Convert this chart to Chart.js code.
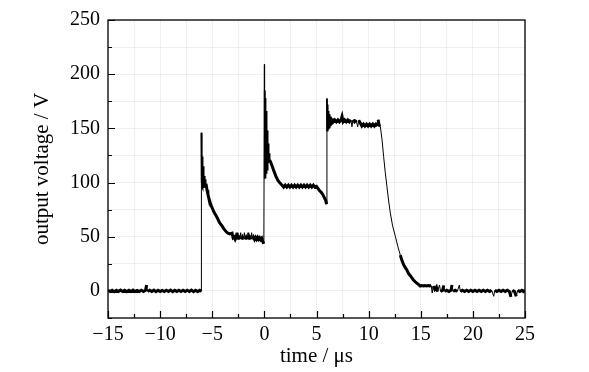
<!DOCTYPE html>
<html>
<head>
<meta charset="utf-8">
<script src="https://cdn.jsdelivr.net/npm/chart.js@4/dist/chart.umd.min.js"></script>
<style>
  html, body { margin: 0; padding: 0; background: #fff; }
  #wrap { width: 589px; height: 372px; }
</style>
</head>
<body>
<div id="wrap"><canvas id="chart-voltage"></canvas></div>
<script>
// Oscilloscope trace: [time us, voltage V]
var baselineBefore = [
  [-15, 0.6], [-14.8, -0.6], [-14.6, 0.5], [-14.4, -0.7], [-14.2, 0.6], [-14, -0.6],
  [-13.8, 0.7], [-13.6, -0.5], [-13.4, 0.6], [-13.2, -0.7], [-13, 0.6], [-12.8, -0.6],
  [-12.6, 0.7], [-12.4, -0.6], [-12.2, 0.5], [-12, -0.6], [-11.8, 0.6], [-11.6, -0.5],
  [-11.4, 0.6], [-11.3, 5.4], [-11.2, -0.6], [-11, 0.6], [-10.8, -0.5], [-10.6, 0.7],
  [-10.4, -0.7], [-10.2, 0.6], [-10, -0.6], [-9.8, 0.5], [-9.6, -0.6], [-9.4, 0.6],
  [-9.2, -0.5], [-9, 0.7], [-8.8, -0.7], [-8.6, 0.6], [-8.4, -0.6], [-8.2, 0.6],
  [-8, -0.5], [-7.8, 0.6], [-7.6, -0.6], [-7.4, 0.6], [-7.2, -0.5], [-7, 0.7],
  [-6.8, -0.7], [-6.6, 0.6], [-6.4, -0.6], [-6.2, 0.5], [-6.06, -0.5]
];

var pulseOne = [
  [-6.04, 146], [-6.02, 100], [-6, 130], [-5.98, 96], [-5.96, 124], [-5.94, 95],
  [-5.92, 119], [-5.9, 95], [-5.88, 115], [-5.86, 95], [-5.84, 112], [-5.82, 95],
  [-5.8, 109], [-5.77, 96], [-5.74, 106], [-5.71, 96], [-5.68, 103], [-5.64, 97],
  [-5.6, 99], [-5.55, 96], [-5.5, 93], [-5.42, 89.5], [-5.34, 86], [-5.26, 83.5],
  [-5.18, 81], [-5.09, 78.5], [-5, 76.5], [-4.85, 73], [-4.7, 70.5], [-4.5, 67],
  [-4.3, 63], [-4.06, 60], [-3.9, 57.5], [-3.7, 55], [-3.5, 53.2], [-3.3, 52.5],
  [-3.1, 53.2], [-3, 49], [-2.9, 49.8], [-2.8, 47.6], [-2.7, 49.6], [-2.62, 53.7],
  [-2.55, 47.6], [-2.45, 49.6], [-2.35, 47.6], [-2.27, 53.7], [-2.2, 47.6], [-2.1, 49.6],
  [-2, 47.6], [-1.92, 53.7], [-1.85, 47.6], [-1.75, 49.6], [-1.65, 47.6], [-1.57, 53.7],
  [-1.5, 47.6], [-1.4, 49.6], [-1.3, 47.6], [-1.22, 53.7], [-1.15, 47.6], [-1.05, 49.6],
  [-0.95, 47.6], [-0.85, 49.4], [-0.75, 47.6], [-0.65, 49.4], [-0.55, 47.6], [-0.45, 49],
  [-0.35, 47.2], [-0.25, 48.5], [-0.15, 45.5], [-0.05, 43.5]
];

var pulseTwo = [
  [0, 209], [0.02, 104], [0.04, 185], [0.06, 105], [0.08, 178], [0.1, 106],
  [0.12, 172], [0.14, 107], [0.16, 166], [0.18, 108], [0.2, 160], [0.22, 110],
  [0.24, 154], [0.26, 112], [0.28, 148], [0.3, 114], [0.32, 142], [0.34, 116],
  [0.36, 136], [0.38, 118], [0.4, 131], [0.43, 120], [0.46, 127], [0.5, 121],
  [0.6, 119], [0.75, 115], [0.9, 111], [1.1, 106], [1.3, 102], [1.5, 99.5],
  [1.7, 97.5], [1.85, 95.8], [2, 97.6], [2.15, 95.8], [2.3, 97.6], [2.45, 95.8],
  [2.6, 97.6], [2.75, 95.8], [2.9, 97.6], [3.05, 95.8], [3.2, 97.6], [3.35, 95.8],
  [3.5, 97.6], [3.65, 95.8], [3.8, 97.6], [3.95, 95.8], [4.1, 97.6], [4.25, 95.8],
  [4.4, 97.6], [4.55, 95.8], [4.7, 97.6], [4.85, 95.8], [5, 96.5], [5.15, 94.5],
  [5.3, 92.5], [5.45, 91], [5.6, 89], [5.75, 86], [5.88, 83.5], [5.97, 80]
];

var pulseThree = [
  [6, 177.5], [6.02, 148], [6.04, 172], [6.06, 148], [6.08, 168], [6.1, 148],
  [6.12, 166], [6.14, 149], [6.16, 164], [6.18, 149], [6.2, 163], [6.23, 150],
  [6.26, 162], [6.29, 151], [6.32, 161], [6.36, 152], [6.4, 160], [6.45, 153],
  [6.5, 159], [6.6, 156], [6.75, 157.8], [6.9, 156], [7.05, 157.8], [7.2, 156],
  [7.35, 157.8], [7.45, 161], [7.55, 156], [7.7, 157.8], [7.85, 156], [8, 157.8],
  [8.15, 156], [8.3, 157.8], [8.4, 151.5], [8.5, 157.8], [8.65, 156], [8.8, 157.8],
  [8.95, 151.5], [9.05, 157.5], [9.2, 155], [9.35, 152.2], [9.5, 154], [9.65, 152.2],
  [9.8, 154], [9.95, 152.2], [10.1, 154], [10.25, 152.2], [10.4, 154], [10.55, 152.2],
  [10.7, 154], [10.85, 152.2], [10.92, 158], [11, 153]
];

var fallAndTail = [
  [11.12, 152], [11.28, 140], [11.44, 124], [11.6, 109], [11.76, 96], [11.92, 83],
  [12.08, 72], [12.3, 60], [12.56, 50.5], [12.8, 41], [13.04, 33], [13.2, 28],
  [13.36, 24], [13.52, 21.5], [13.68, 19], [13.84, 16], [14, 14], [14.15, 12],
  [14.3, 10], [14.48, 8.4], [14.65, 7], [14.8, 5.8], [14.95, 4.5], [15.1, 5],
  [15.25, 4.5], [15.4, 5], [15.55, 4.5], [15.7, 5], [15.85, 4.5], [16, 5],
  [16.1, -2], [16.2, 4.5], [16.35, 1.5], [16.5, 3.5], [16.6, -0.6], [16.8, 5.4],
  [16.9, -0.6], [17.1, 0.6], [17.2, 5], [17.3, -0.6], [17.5, 0.6], [17.7, -0.6],
  [17.9, 0.6], [18, 5.4], [18.1, -0.6], [18.3, 0.6], [18.5, -0.6], [18.7, 5.4],
  [18.8, -0.6], [19, 0.6], [19.2, -0.6], [19.4, 0.6], [19.6, -0.6], [19.8, 0.6],
  [20, -0.6], [20.2, 0.6], [20.4, -0.6], [20.6, 0.6], [20.8, -0.6], [21, 0.6],
  [21.2, -0.6], [21.4, 0.6], [21.6, -0.6], [21.8, 0.6], [22, -5], [22.1, 0.6],
  [22.3, -0.6], [22.5, 0.6], [22.7, -0.6], [22.9, 0.6], [23.1, -0.6], [23.3, 0.6],
  [23.5, -0.6], [23.65, -5.5], [23.8, 0.6], [24, -0.6], [24.16, -5], [24.3, 0.6],
  [24.5, -0.6], [24.7, 0.6], [24.85, -0.6], [25, 0.5]
];

var xMin = -15, xMax = 25, xStep = 2.5, xLabelEvery = 5;
var yMin = -25, yMax = 250, yStep = 25, yLabelEvery = 50;

var trace = baselineBefore.concat(pulseOne, pulseTwo, pulseThree, fallAndTail)
  .map(function (p) { return { x: p[0], y: p[1] }; });

var serif = "'Liberation Serif', 'Times New Roman', serif";

function fmtMinus(v) {
  return String(v).replace('-', '\u2212');
}

// trace width: noisy flat runs print thick, the fast ringing fills in,
// the big jumps stay hairline
function traceWidth(c) {
  var dx = Math.abs(c.p1.x - c.p0.x);
  var dy = Math.abs(c.p1.y - c.p0.y);
  if (dy <= 6) return 3;
  if (dx < 0.5 && dy < 90) return 1.8;
  return 1;
}

// box round the plot plus inward tick marks, like the original plot
var frameAndTicks = {
  id: 'frameAndTicks',
  afterDatasetsDraw: function (chart) {
    var ctx = chart.ctx, a = chart.chartArea;
    var xs = chart.scales.x, ys = chart.scales.y;
    ctx.save();
    ctx.strokeStyle = '#000';
    ctx.lineWidth = 1.3;
    ctx.strokeRect(a.left, a.top, a.right - a.left, a.bottom - a.top);
    ctx.lineWidth = 1.2;
    ctx.beginPath();
    xs.ticks.forEach(function (t) {
      var px = Math.round(xs.getPixelForValue(t.value)) + 0.5;
      var len = (t.value % xLabelEvery === 0) ? 7 : 4;
      ctx.moveTo(px, a.bottom);
      ctx.lineTo(px, a.bottom - len);
    });
    ys.ticks.forEach(function (t) {
      var py = Math.round(ys.getPixelForValue(t.value)) + 0.5;
      var len = (t.value % yLabelEvery === 0) ? 7 : 4;
      ctx.moveTo(a.left, py);
      ctx.lineTo(a.left + len, py);
    });
    ctx.stroke();
    ctx.restore();
  }
};

var ctx = document.getElementById('chart-voltage').getContext('2d');
var chart = new Chart(ctx, {
  type: 'line',
  data: {
    datasets: [{
      label: 'output voltage',
      data: trace,
      borderColor: '#000',
      backgroundColor: '#000',
      borderWidth: 1,
      pointRadius: 0,
      tension: 0,
      fill: false,
      segment: { borderWidth: traceWidth }
    }]
  },
  plugins: [frameAndTicks],
  options: {
    responsive: true,
    maintainAspectRatio: false,
    animation: false,
    layout: { padding: { left: 0, right: 64, top: 15, bottom: 0 } },
    plugins: {
      legend: { display: false },
      tooltip: { enabled: false }
    },
    scales: {
      x: {
        type: 'linear',
        min: xMin,
        max: xMax,
        afterFit: function (scale) { scale.height = 54; },
        ticks: {
          stepSize: xStep,
          autoSkip: false,
          maxRotation: 0,
          padding: 5,
          color: '#000',
          font: { family: serif, size: 20 },
          callback: function (v) { return v % xLabelEvery === 0 ? fmtMinus(v) : ''; }
        },
        grid: { color: 'rgba(0,0,0,0.06)', drawTicks: false },
        border: { display: false },
        title: {
          display: true,
          text: 'time / \u03BCs',
          color: '#000',
          font: { family: serif, size: 21 },
          padding: { top: 0, bottom: 3 }
        }
      },
      y: {
        type: 'linear',
        min: yMin,
        max: yMax,
        afterFit: function (scale) { scale.width = 108; },
        ticks: {
          stepSize: yStep,
          autoSkip: false,
          padding: 8,
          color: '#000',
          font: { family: serif, size: 20 },
          callback: function (v) { return (v >= 0 && v % yLabelEvery === 0) ? fmtMinus(v) : ''; }
        },
        grid: { color: 'rgba(0,0,0,0.06)', drawTicks: false },
        border: { display: false },
        title: {
          display: true,
          text: 'output voltage / V',
          color: '#000',
          font: { family: serif, size: 21 },
          padding: { top: 30, bottom: 0 }
        }
      }
    }
  }
});
</script>
</body>
</html>
